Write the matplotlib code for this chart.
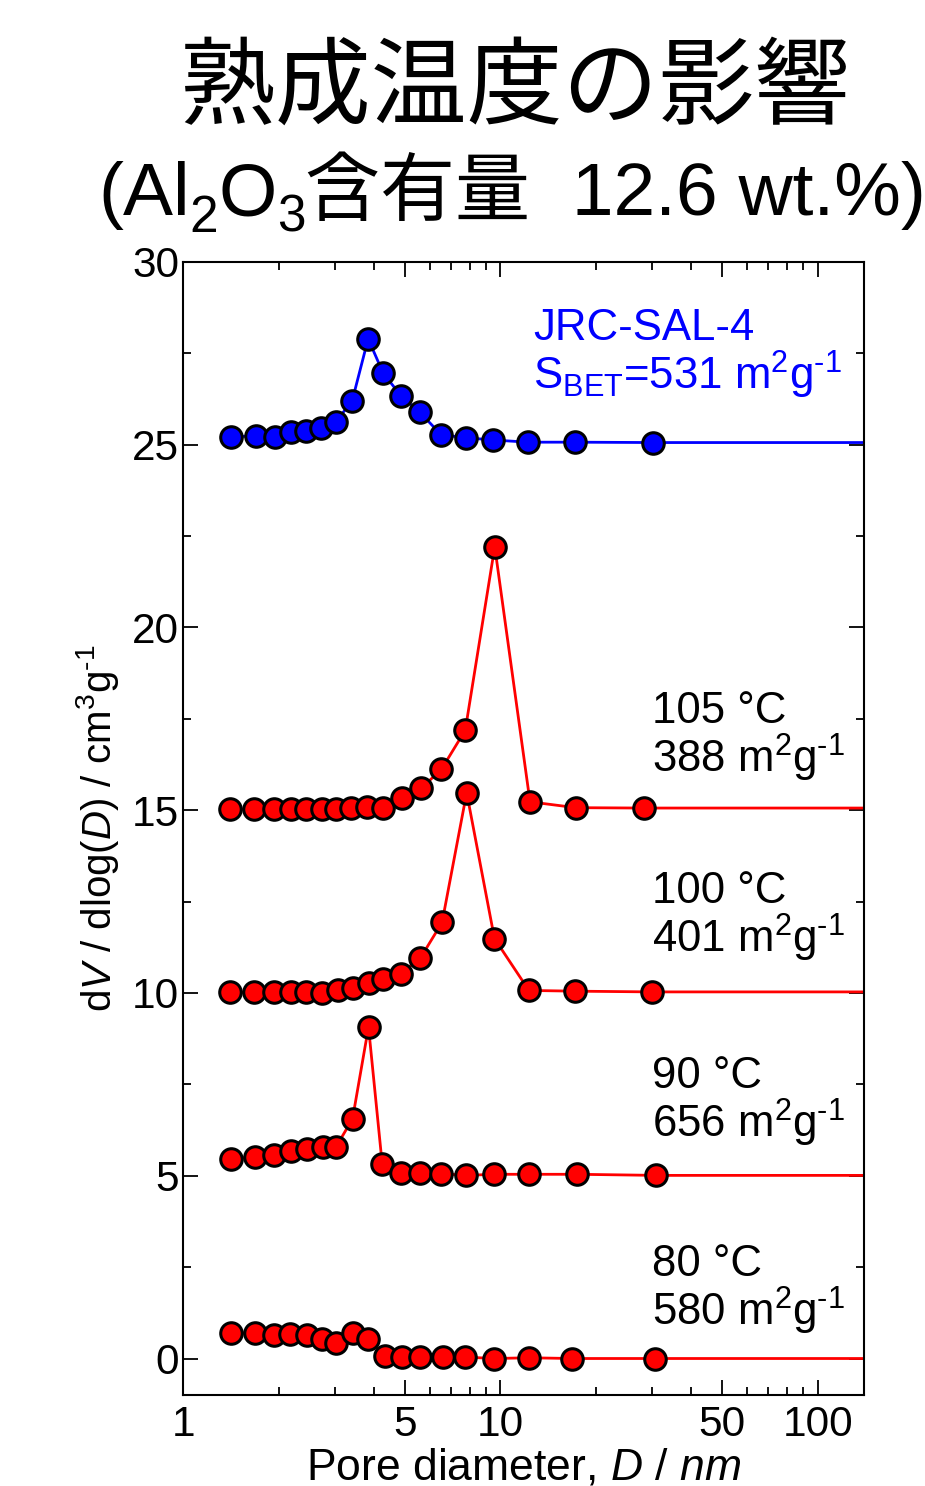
import matplotlib
matplotlib.use("Agg")
import matplotlib.pyplot as plt
from matplotlib.ticker import FixedLocator, FixedFormatter, MultipleLocator
from matplotlib.transforms import IdentityTransform

plt.rcParams['font.family'] = ['Liberation Sans', 'Noto Sans CJK JP', 'DejaVu Sans']
plt.rcParams['mathtext.fontset'] = 'custom'
plt.rcParams['mathtext.rm'] = 'Liberation Sans'
plt.rcParams['mathtext.it'] = 'Liberation Sans:italic'

# pore diameter (nm) and dV/dlog(D) (offset already included)
d_ref = [1.42, 1.70, 1.95, 2.19, 2.44, 2.72, 3.03, 3.41, 3.83, 4.27, 4.87, 5.57, 6.51, 7.80, 9.48, 12.2, 17.2, 30.3]
v_ref = [25.22, 25.24, 25.22, 25.34, 25.38, 25.45, 25.63, 26.20, 27.90, 26.96, 26.33, 25.89, 25.27, 25.19, 25.13, 25.07, 25.07, 25.06]

d_105 = [1.41, 1.67, 1.93, 2.18, 2.44, 2.73, 3.03, 3.39, 3.80, 4.27, 4.90, 5.63, 6.52, 7.75, 9.60, 12.4, 17.3, 28.3]
v_105 = [15.03, 15.03, 15.03, 15.03, 15.03, 15.03, 15.03, 15.05, 15.09, 15.07, 15.34, 15.60, 16.12, 17.19, 22.21, 15.23, 15.07, 15.06]

d_100 = [1.41, 1.67, 1.93, 2.18, 2.44, 2.74, 3.07, 3.43, 3.86, 4.27, 4.85, 5.60, 6.55, 7.83, 9.58, 12.3, 17.2, 30.0]
v_100 = [10.02, 10.02, 10.02, 10.02, 10.02, 10.01, 10.07, 10.15, 10.26, 10.37, 10.53, 10.96, 11.93, 15.48, 11.49, 10.07, 10.05, 10.03]

d_90 = [1.42, 1.68, 1.94, 2.18, 2.45, 2.76, 3.03, 3.42, 3.84, 4.24, 4.86, 5.60, 6.52, 7.80, 9.53, 12.3, 17.5, 31.0]
v_90 = [5.47, 5.51, 5.56, 5.67, 5.72, 5.80, 5.78, 6.56, 9.07, 5.33, 5.08, 5.07, 5.06, 5.01, 5.04, 5.04, 5.04, 5.01]

d_80 = [1.42, 1.68, 1.94, 2.17, 2.45, 2.74, 3.03, 3.42, 3.83, 4.32, 4.88, 5.60, 6.60, 7.72, 9.56, 12.3, 16.8, 30.7]
v_80 = [0.70, 0.70, 0.65, 0.68, 0.63, 0.52, 0.43, 0.70, 0.52, 0.06, 0.05, 0.05, 0.04, 0.04, 0.00, 0.02, 0.00, 0.00]

SUP = 'm$^2$g$^{\u2010 1}$'
labels = ['105 °C\n388 ' + SUP, '100 °C\n401 ' + SUP, '90 °C\n656 ' + SUP, '80 °C\n580 ' + SUP]
label_y = [17.0, 12.07, 7.0, 1.86]

D_END = 140  # lines run on to the right edge

fig = plt.figure(figsize=(9.25, 14.86), dpi=100)
ax = fig.add_axes([0.198, 0.0612, 0.736, 0.7625])

series = [(d_ref, v_ref, 'blue'), (d_105, v_105, 'red'), (d_100, v_100, 'red'),
          (d_90, v_90, 'red'), (d_80, v_80, 'red')]
for d, v, c in series:
    ax.plot(d + [D_END], v + [v[-1]], color=c, lw=2.0, zorder=2)
    ax.plot(d, v, 'o', ms=15.5, mfc=c, mec='black', mew=2.2, zorder=3)

for lab, y in zip(labels, label_y):
    ax.text(30, y, lab, fontsize=31.5, va='center', ha='left', linespacing=1.0)
ax.text(12.7, 27.46, 'JRC-SAL-4\nS$_{\\rm BET}$=531 ' + SUP, color='blue',
        fontsize=31.5, va='center', ha='left', linespacing=1.0)

ax.set_xscale('log')
ax.set_xlim(1, D_END)
ax.set_ylim(-1, 30)
ax.xaxis.set_major_locator(FixedLocator([1, 5, 10, 50, 100]))
ax.xaxis.set_major_formatter(FixedFormatter(['1', '5', '10', '50', '100']))
ax.xaxis.set_minor_locator(FixedLocator([2, 3, 4, 6, 7, 8, 9, 20, 30, 40, 60, 70, 80, 90]))
ax.xaxis.set_minor_formatter(FixedFormatter([]))
ax.yaxis.set_major_locator(MultipleLocator(5))
ax.yaxis.set_minor_locator(MultipleLocator(2.5))
ax.tick_params(which='both', direction='in', top=True, right=True, labelsize=30.5, width=1.3)
ax.tick_params(which='major', length=11)
ax.tick_params(which='minor', length=6)
ax.tick_params(axis='x', pad=7)
ax.tick_params(axis='y', pad=3)
for s in ax.spines.values():
    s.set_linewidth(1.5)

ax.set_ylabel('d$V$ / dlog($D$) / cm$^3$g$^{\u2010 1}$', fontsize=29, labelpad=8)
ax.set_xlabel('Pore diameter, $D$ / $nm$', fontsize=32, labelpad=2)

fig.text(0.556, 0.938, '熟成温度の影響', fontsize=69, ha='center', va='center')

# subtitle built piece by piece (mathtext cannot do the CJK part)
pieces = [('(Al', 54, 0), ('2', 37, -17), ('O', 54, 0), ('3', 37, -17), ('含有量  12.6 wt.%)', 54, 0)]
renderer = fig.canvas.get_renderer()
base_y = 1486 - 215
texts = []
widths = []
for s, size, dy in pieces:
    t = fig.text(0, base_y + dy, s, fontsize=size, ha='left', va='baseline',
                 transform=IdentityTransform())
    texts.append(t)
    widths.append(t.get_window_extent(renderer).width)
x = 512 - sum(widths) / 2
for t, w in zip(texts, widths):
    t.set_x(x)
    x += w

fig.savefig('out.png', dpi=100)
